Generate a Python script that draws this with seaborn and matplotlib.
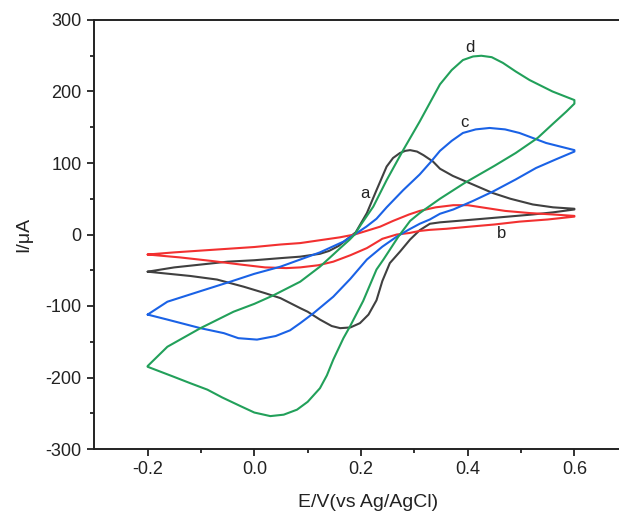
import numpy as np
import pandas as pd
import matplotlib
matplotlib.use("Agg")
import matplotlib.pyplot as plt
import seaborn as sns

# ---- data (E in V, I in uA); each curve: forward sweep then return sweep
Ea_fwd = [-0.2, -0.15, -0.1, -0.05, 0.0, 0.05, 0.086, 0.123, 0.14, 0.158, 0.173, 0.19, 0.211, 0.229, 0.248, 0.26, 0.273, 0.283, 0.292, 0.305, 0.317, 0.335, 0.348, 0.372, 0.397, 0.422, 0.447, 0.48, 0.522, 0.56, 0.6]
Ia_fwd = [-52, -46, -42, -38, -36, -33, -31, -27, -23, -16, -7, 3, 30, 62, 95, 107, 114, 117, 118, 116, 111, 102, 92, 82, 74, 66, 58, 50, 42, 38, 36]
Ea_rev = [0.6, 0.56, 0.522, 0.46, 0.397, 0.348, 0.329, 0.31, 0.292, 0.273, 0.254, 0.24, 0.229, 0.214, 0.198, 0.18, 0.161, 0.145, 0.123, 0.1, 0.086, 0.049, 0.02, -0.02, -0.07, -0.12, -0.16, -0.2]
Ia_rev = [35, 31, 28, 24, 20, 17, 15, 6, -7, -24, -40, -65, -92, -112, -124, -130, -131, -128, -119, -108, -103, -89, -82, -73, -63, -58, -55, -52]

Eb_fwd = [-0.2, -0.15, -0.1, -0.05, 0.0, 0.049, 0.086, 0.123, 0.16, 0.188, 0.21, 0.236, 0.26, 0.29, 0.31, 0.34, 0.373, 0.40, 0.435, 0.47, 0.516, 0.56, 0.6]
Ib_fwd = [-28, -25, -22.5, -20, -17.5, -14, -12, -8, -4, 0, 5, 11, 19, 28, 33, 38, 41, 41, 37, 33, 30, 28, 26]
Eb_rev = [0.6, 0.55, 0.497, 0.45, 0.404, 0.36, 0.329, 0.31, 0.29, 0.267, 0.24, 0.211, 0.18, 0.148, 0.12, 0.086, 0.06, 0.02, -0.026, -0.08, -0.14, -0.2]
Ib_rev = [25, 21, 18, 14, 11, 8, 6.5, 5, 2, 0, -6, -19, -29, -38, -43, -46, -47, -46, -42, -37, -32, -28]

Ec_fwd = [-0.2, -0.163, -0.1, -0.045, 0.0, 0.049, 0.086, 0.123, 0.167, 0.188, 0.21, 0.229, 0.248, 0.279, 0.31, 0.329, 0.348, 0.37, 0.391, 0.415, 0.441, 0.47, 0.497, 0.547, 0.6]
Ic_fwd = [-112, -94, -79, -66, -55, -45, -35, -25, -10, 0, 11, 22, 38, 62, 84, 100, 117, 131, 142, 147, 149, 147, 142, 128, 118]
Ec_rev = [0.6, 0.565, 0.528, 0.49, 0.447, 0.41, 0.373, 0.348, 0.329, 0.31, 0.29, 0.267, 0.24, 0.211, 0.18, 0.148, 0.111, 0.086, 0.067, 0.04, 0.005, -0.03, -0.057, -0.101, -0.163, -0.2]
Ic_rev = [116, 105, 93, 77, 60, 47, 35, 29, 21, 15, 7, -3, -17, -35, -62, -87, -110, -124, -134, -142, -147, -145, -138, -131, -119, -112]

Ed_fwd = [-0.2, -0.163, -0.101, -0.039, 0.0, 0.036, 0.086, 0.123, 0.148, 0.161, 0.179, 0.188, 0.2, 0.223, 0.248, 0.279, 0.31, 0.348, 0.37, 0.391, 0.41, 0.4255, 0.445, 0.466, 0.49, 0.516, 0.559, 0.6]
Id_fwd = [-184, -157, -131, -108, -97, -85, -66, -45, -28, -19, -7, 0, 14, 39, 76, 118, 158, 210, 230, 244, 249, 250, 248, 240, 228, 216, 200, 188]
Ed_rev = [0.6, 0.585, 0.56, 0.531, 0.49, 0.45, 0.394, 0.348, 0.31, 0.292, 0.27, 0.242, 0.229, 0.204, 0.179, 0.167, 0.148, 0.136, 0.123, 0.1, 0.08, 0.055, 0.03, 0.0, -0.026, -0.06, -0.088, -0.12, -0.151, -0.2]
Id_rev = [183, 172, 155, 135, 114, 96, 72, 50, 30, 19, -3, -35, -49, -93, -129, -145, -175, -197, -215, -234, -245, -252, -254, -249, -240, -228, -217, -208, -199, -185]

curve_names = ["a", "b", "c", "d"]
curve_colors = ["#404040", "#f23030", "#1a62e6", "#22a05a"]
label_E = [0.207, 0.463, 0.393, 0.404]
label_I = [58, 2, 157, 262]

y_ticks = [-300, -200, -100, 0, 100, 200, 300]
x_ticks = [-0.2, 0.0, 0.2, 0.4, 0.6]
x_ticklabels = ["-0.2", "0.0", "0.2", "0.4", "0.6"]

# ---- build long table
rows = []
series = {
    "a": (Ea_fwd + Ea_rev, Ia_fwd + Ia_rev),
    "b": (Eb_fwd + Eb_rev, Ib_fwd + Ib_rev),
    "c": (Ec_fwd + Ec_rev, Ic_fwd + Ic_rev),
    "d": (Ed_fwd + Ed_rev, Id_fwd + Id_rev),
}
for name in curve_names:
    E, I = series[name]
    for k, (e, i) in enumerate(zip(E, I)):
        rows.append({"E": e, "I": i, "curve": name, "order": k})
df = pd.DataFrame(rows)

sns.set_style("ticks")
plt.rcParams["font.family"] = ["Liberation Sans", "DejaVu Sans"]
plt.rcParams["axes.unicode_minus"] = False
plt.rcParams["lines.solid_joinstyle"] = "round"
plt.rcParams["lines.solid_capstyle"] = "round"

fig = plt.figure(figsize=(6.19, 5.14), dpi=100)
W, H = 619, 514
ax = fig.add_axes([94.3 / W, 65 / H, (W - 94.3) / W, 429 / H])

sns.lineplot(data=df, x="E", y="I", hue="curve", hue_order=curve_names,
             palette=dict(zip(curve_names, curve_colors)), sort=False,
             estimator=None, legend=False, linewidth=1.5, ax=ax)
for ln in ax.get_lines():
    ln.set_solid_joinstyle("round")

for name, xe, yi in zip(curve_names, label_E, label_I):
    ax.text(xe, yi, name, fontsize=12, ha="center", va="center", color="#222222")

ax.set_xlim(-0.3, 0.6836)
ax.set_ylim(-300, 300)
ax.set_yticks(y_ticks)
ax.set_yticklabels([str(v) for v in y_ticks])
ax.set_yticks([-250, -150, -50, 50, 150, 250], minor=True)
ax.set_xticks(x_ticks)
ax.set_xticklabels(x_ticklabels)
ax.set_xticks([-0.1, 0.1, 0.3, 0.5], minor=True)

ax.tick_params(axis="both", which="major", direction="out", length=5, width=1.3,
               labelsize=13, color="#222222", labelcolor="#222222", pad=4)
ax.tick_params(axis="both", which="minor", direction="out", length=3, width=1.3,
               color="#222222")
ax.tick_params(top=False, right=False, which="both")

for side in ["left", "bottom", "top"]:
    ax.spines[side].set_linewidth(1.4)
    ax.spines[side].set_color("#222222")
ax.spines["right"].set_visible(False)

ax.set_xlabel("E/V(vs Ag/AgCl)", fontsize=14, color="#222222")
ax.set_ylabel("I/\u03bcA", fontsize=14, color="#222222")
ax.xaxis.set_label_coords(0.5216, -0.105)
ax.yaxis.set_label_coords(-0.118, 0.5)

fig.savefig("out.png", dpi=100, facecolor="white")
